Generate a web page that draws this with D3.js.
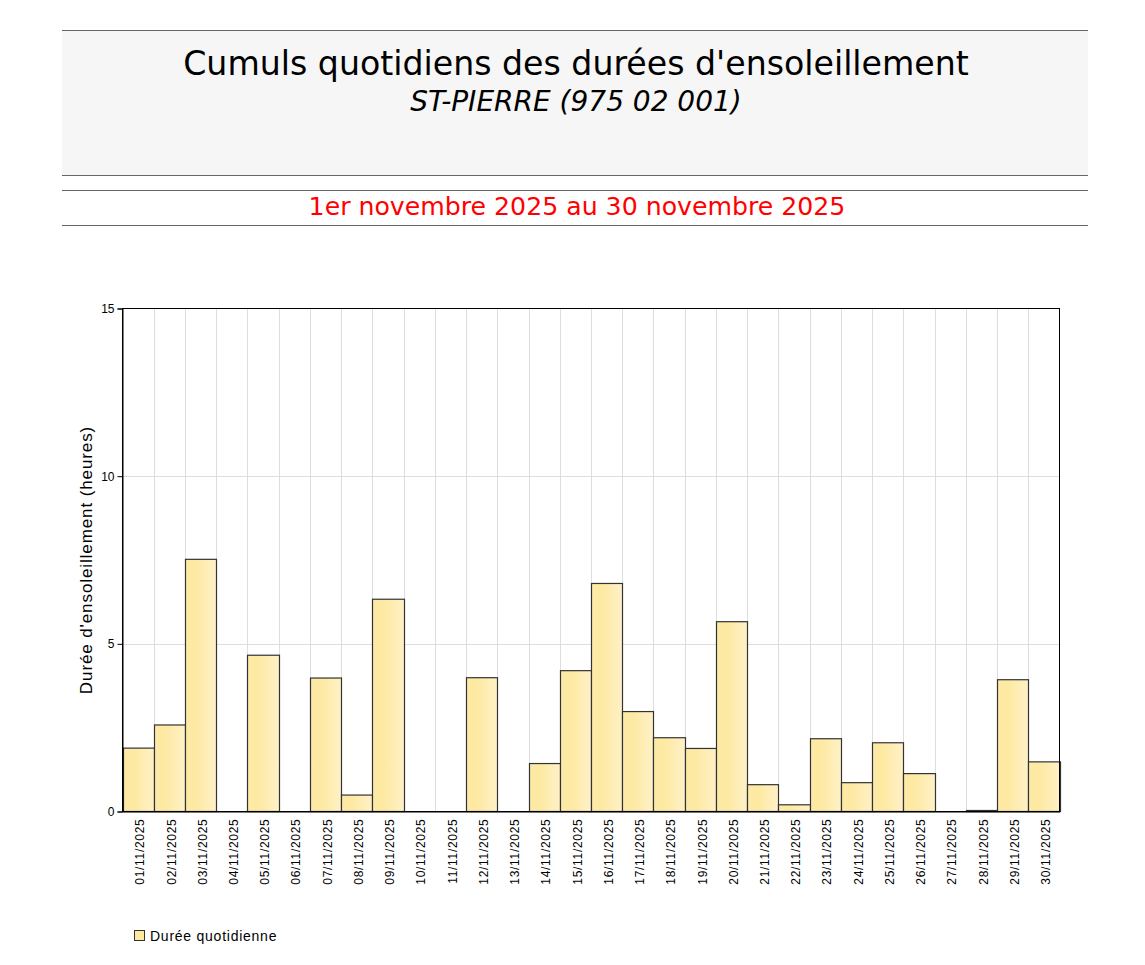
<!DOCTYPE html>
<html><head><meta charset="utf-8">
<script src="https://cdn.jsdelivr.net/npm/d3@7"></script>
<style>body{margin:0;background:#fff}svg{display:block}</style>
</head><body>
<script>
const days = ["01/11/2025","02/11/2025","03/11/2025","04/11/2025","05/11/2025","06/11/2025","07/11/2025","08/11/2025","09/11/2025","10/11/2025","11/11/2025","12/11/2025","13/11/2025","14/11/2025","15/11/2025","16/11/2025","17/11/2025","18/11/2025","19/11/2025","20/11/2025","21/11/2025","22/11/2025","23/11/2025","24/11/2025","25/11/2025","26/11/2025","27/11/2025","28/11/2025","29/11/2025","30/11/2025"];
const hours = [1.89,2.58,7.52,0,4.66,0,3.98,0.49,6.33,0,0,3.99,0,1.43,4.2,6.8,2.98,2.2,1.88,5.66,0.8,0.2,2.17,0.86,2.05,1.13,0,0.03,3.93,1.48];
const yTicks = [0,5,10,15];
const title = "Cumuls quotidiens des durées d'ensoleillement";
const subtitle = "ST-PIERRE (975 02 001)";
const period = "1er novembre 2025 au 30 novembre 2025";
const yLabel = "Durée d'ensoleillement (heures)";
const legendLabel = "Durée quotidienne";

const W = 1145, H = 965;
const svg = d3.select("body").append("svg").attr("width", W).attr("height", H);

// gradient
const defs = svg.append("defs");
const g = defs.append("linearGradient").attr("id","barGrad").attr("x1","0%").attr("x2","100%").attr("y1","0%").attr("y2","0%");
g.append("stop").attr("offset","0%").attr("stop-color","#fdeaa8");
g.append("stop").attr("offset","30%").attr("stop-color","#fde9a0");
g.append("stop").attr("offset","100%").attr("stop-color","#fff1c8");

// header
svg.append("rect").attr("x",62).attr("y",30).attr("width",1026).attr("height",145).attr("fill","#f6f6f6");
[30,175,190,225].forEach(y => svg.append("line").attr("x1",62).attr("x2",1088).attr("y1",y+0.5).attr("y2",y+0.5).attr("stroke","#666").attr("stroke-width",1));
svg.append("text").attr("x",576).attr("y",75).attr("text-anchor","middle")
  .attr("font-family","DejaVu Sans").attr("font-size",33.2).attr("fill","#000").text(title);
svg.append("text").attr("x",576).attr("y",111).attr("text-anchor","middle")
  .attr("font-family","DejaVu Sans").attr("font-style","italic").attr("font-size",28).attr("fill","#000").text(subtitle);
svg.append("text").attr("x",577).attr("y",215).attr("text-anchor","middle")
  .attr("font-family","DejaVu Sans").attr("font-size",25.2).attr("fill","#ff0000").text(period);

// plot
const L = 122.5, R = 1059.5, T = 308.5, B = 811.5;
const x = d3.scaleBand().domain(days).range([L, R]).padding(0);
const y = d3.scaleLinear().domain([0,15]).range([B, T]);

const grid = svg.append("g");
grid.selectAll(".vg").data(days.slice(1)).enter().append("line")
  .attr("x1", d => Math.round(x(d))+0.5).attr("x2", d => Math.round(x(d))+0.5)
  .attr("y1", T).attr("y2", B).attr("stroke","#dedede").attr("stroke-width",1);
grid.selectAll(".hg").data(yTicks.slice(1,-1)).enter().append("line")
  .attr("x1", L).attr("x2", R).attr("y1", d => Math.round(y(d))+0.5).attr("y2", d => Math.round(y(d))+0.5)
  .attr("stroke","#dedede").attr("stroke-width",1);

svg.append("g").selectAll("rect").data(hours).enter().append("rect")
  .attr("x", (d,i) => Math.round(x(days[i]))+0.5)
  .attr("width", (d,i) => Math.round(x(days[i])+x.bandwidth()) - Math.round(x(days[i])))
  .attr("y", d => y(d))
  .attr("height", d => B - y(d))
  .attr("fill","url(#barGrad)")
  .attr("stroke", d => d > 0 ? "#333" : "none").attr("stroke-width",1.2);

// frame
svg.append("rect").attr("x",L).attr("y",T).attr("width",R-L).attr("height",B-T)
  .attr("fill","none").attr("stroke","#000").attr("stroke-width",1);

// y axis
const yAxis = d3.axisLeft(y).tickValues(yTicks).tickSize(5).tickPadding(3);
const ya = svg.append("g").attr("transform",`translate(${L},0)`).call(yAxis);
ya.select(".domain").attr("stroke","#000");
ya.selectAll("line").attr("stroke","#000");
ya.selectAll("text").attr("font-family","Liberation Sans, Arial").attr("font-size",12).attr("fill","#000");

// x axis
const xAxis = d3.axisBottom(x).tickSize(0).tickPadding(0);
const xa = svg.append("g").attr("transform",`translate(0,${B})`).call(xAxis);
xa.select(".domain").attr("stroke","#000");
xa.selectAll("text")
  .attr("font-family","Liberation Sans, Arial").attr("font-size",12).attr("fill","#000")
  .attr("letter-spacing","0.7px")
  .attr("text-anchor","end")
  .attr("transform","rotate(-90)")
  .attr("x",-7).attr("y",2).attr("dy","0.35em");

svg.append("text").attr("transform","translate(92,560) rotate(-90)").attr("text-anchor","middle")
  .attr("font-family","Liberation Sans, Arial").attr("font-size",17).attr("letter-spacing","0.9px")
  .attr("fill","#000").text(yLabel);

// legend
svg.append("rect").attr("x",134.5).attr("y",930.5).attr("width",10).attr("height",10)
  .attr("fill","#fde9a0").attr("stroke","#333").attr("stroke-width",1);
svg.append("text").attr("x",150).attr("y",941).attr("font-family","Liberation Sans, Arial")
  .attr("font-size",14).attr("letter-spacing","0.75px").attr("fill","#000").text(legendLabel);
</script>
</body></html>
